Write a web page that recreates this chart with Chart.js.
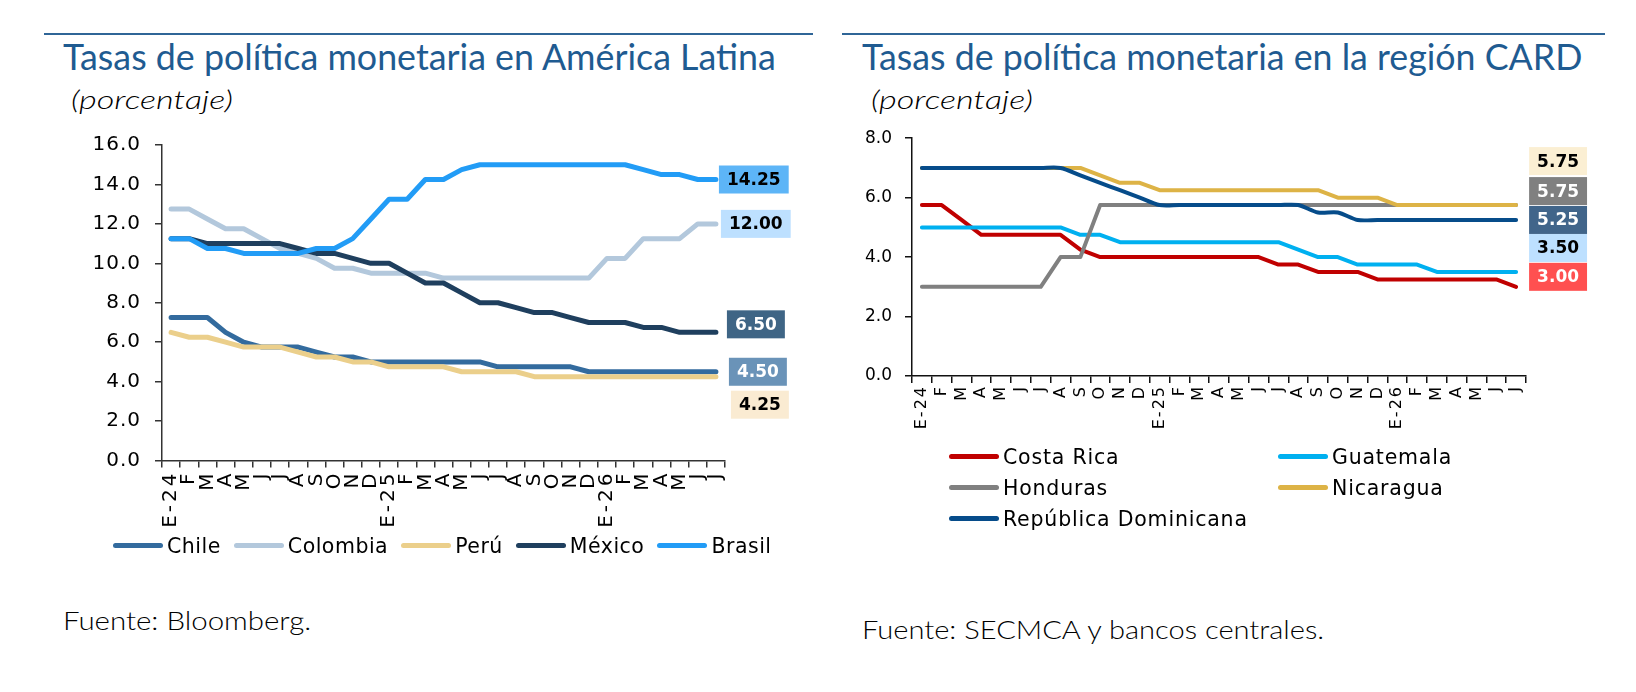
<!DOCTYPE html>
<html lang="es">
<head>
<meta charset="UTF-8">
<title>Tasas de política monetaria</title>
<script src="https://cdn.jsdelivr.net/npm/chart.js"></script>
<style>
    body { margin: 0; background: #fff; width: 1636px; height: 692px; position: relative; overflow: hidden; font-family: 'DejaVu Sans', sans-serif; }
    .rule { position: absolute; top: 33px; height: 2px; background: #2f6597; }
    .title { position: absolute; top: 37px; font-family: Lato, sans-serif; font-size: 37px; line-height: 1; color: #1f5b91; white-space: nowrap; transform-origin: left top; }
    .unit { position: absolute; top: 86px; font-family: Lato, sans-serif; font-style: italic; font-weight: 300; font-size: 26px; line-height: 1; white-space: nowrap; transform-origin: left top; }
    .source { position: absolute; font-family: Lato, sans-serif; font-weight: 300; font-size: 26px; line-height: 1; white-space: nowrap; transform-origin: left top; }
    canvas { position: absolute; }
    .legend { position: absolute; font-size: 20.5px; letter-spacing: 0.5px; color: #000; }
    .legend .item { display: flex; align-items: center; height: 31px; white-space: nowrap; }
    .legend .swatch { width: 50px; height: 5px; border-radius: 3px; margin-right: 4px; }
    #legend-la { display: flex; gap: 13px; left: 113px; top: 530px; }
    #legend-card { display: grid; grid-template-columns: 329px auto; left: 949px; top: 441px; letter-spacing: 0.8px; }
</style>
</head>
<body>
    <div class="rule" style="left:44px; width:769px"></div>
    <div class="rule" style="left:842px; width:763px"></div>

    <div class="title fit" data-w="713" style="left:63px">Tasas de política monetaria en América Latina</div>
    <div class="title fit" data-w="720" style="left:862px">Tasas de política monetaria en la región CARD</div>
    <div class="unit fit" data-w="162" style="left:71px">(porcentaje)</div>
    <div class="unit fit" data-w="162" style="left:871px">(porcentaje)</div>

    <canvas id="chart-la" width="745" height="431" style="left:70px; top:119px"></canvas>
    <canvas id="chart-card" width="760" height="340" style="left:850px; top:115px"></canvas>

    <div class="legend" id="legend-la"></div>
    <div class="legend" id="legend-card"></div>

    <div class="source fit" data-w="248" style="left:63px; top:607px">Fuente: Bloomberg.</div>
    <div class="source fit" data-w="462" style="left:862px; top:616px">Fuente: SECMCA y bancos centrales.</div>

<script>
    // meses: enero 2024 a julio 2026
    const months = ['E-24','F','M','A','M','J','J','A','S','O','N','D',
                    'E-25','F','M','A','M','J','J','A','S','O','N','D',
                    'E-26','F','M','A','M','J','J'];

    // América Latina
    const chile    = [7.25,7.25,7.25,6.5,6.0,5.75,5.75,5.75,5.5,5.25,5.25,5.0,5.0,5.0,5.0,5.0,5.0,5.0,4.75,4.75,4.75,4.75,4.75,4.5,4.5,4.5,4.5,4.5,4.5,4.5,4.5];
    const colombia = [12.75,12.75,12.25,11.75,11.75,11.25,10.75,10.5,10.25,9.75,9.75,9.5,9.5,9.5,9.5,9.25,9.25,9.25,9.25,9.25,9.25,9.25,9.25,9.25,10.25,10.25,11.25,11.25,11.25,12.0,12.0];
    const peru     = [6.5,6.25,6.25,6.0,5.75,5.75,5.75,5.5,5.25,5.25,5.0,5.0,4.75,4.75,4.75,4.75,4.5,4.5,4.5,4.5,4.25,4.25,4.25,4.25,4.25,4.25,4.25,4.25,4.25,4.25,4.25];
    const mexico   = [11.25,11.25,11.0,11.0,11.0,11.0,11.0,10.75,10.5,10.5,10.25,10.0,10.0,9.5,9.0,9.0,8.5,8.0,8.0,7.75,7.5,7.5,7.25,7.0,7.0,7.0,6.75,6.75,6.5,6.5,6.5];
    const brasil   = [11.25,11.25,10.75,10.75,10.5,10.5,10.5,10.5,10.75,10.75,11.25,12.25,13.25,13.25,14.25,14.25,14.75,15.0,15.0,15.0,15.0,15.0,15.0,15.0,15.0,15.0,14.75,14.5,14.5,14.25,14.25];

    // región CARD
    const costaRica  = [5.75,5.75,5.25,4.75,4.75,4.75,4.75,4.75,4.25,4.0,4.0,4.0,4.0,4.0,4.0,4.0,4.0,4.0,3.75,3.75,3.5,3.5,3.5,3.25,3.25,3.25,3.25,3.25,3.25,3.25,3.0];
    const guatemala  = [5.0,5.0,5.0,5.0,5.0,5.0,5.0,5.0,4.75,4.75,4.5,4.5,4.5,4.5,4.5,4.5,4.5,4.5,4.5,4.25,4.0,4.0,3.75,3.75,3.75,3.75,3.5,3.5,3.5,3.5,3.5];
    const honduras   = [3.0,3.0,3.0,3.0,3.0,3.0,3.0,4.0,4.0,5.75,5.75,5.75,5.75,5.75,5.75,5.75,5.75,5.75,5.75,5.75,5.75,5.75,5.75,5.75,5.75,5.75,5.75,5.75,5.75,5.75,5.75];
    const nicaragua  = [7.0,7.0,7.0,7.0,7.0,7.0,7.0,7.0,7.0,6.75,6.5,6.5,6.25,6.25,6.25,6.25,6.25,6.25,6.25,6.25,6.25,6.0,6.0,6.0,5.75,5.75,5.75,5.75,5.75,5.75,5.75];
    const repDom     = [7.0,7.0,7.0,7.0,7.0,7.0,7.0,7.0,6.75,6.5,6.25,6.0,5.75,5.75,5.75,5.75,5.75,5.75,5.75,5.75,5.5,5.5,5.25,5.25,5.25,5.25,5.25,5.25,5.25,5.25,5.25];

    const laSeries = [
        { label: 'Chile',    data: chile,    color: '#336b9e', tag: { bg: '#6a93b8', fg: '#fff', dx: 13, dy: 0 } },
        { label: 'Colombia', data: colombia, color: '#b3c8dc', tag: { bg: '#bde0ff', fg: '#000', dx: 5,  dy: 0 } },
        { label: 'Perú',     data: peru,     color: '#ebcf8b', tag: { bg: '#faebd2', fg: '#000', dx: 15, dy: 28 } },
        { label: 'México',   data: mexico,   color: '#1f3f5e', tag: { bg: '#3f6585', fg: '#fff', dx: 11, dy: -8 } },
        { label: 'Brasil',   data: brasil,   color: '#229cf6', tag: { bg: '#5db5f7', fg: '#000', dx: 3,  dy: 0 } }
    ];

    const cardSeries = [
        { label: 'Costa Rica',           data: costaRica, color: '#c00000', tag: { bg: '#ff5050', fg: '#fff', dx: 13, dy: -10 } },
        { label: 'Guatemala',            data: guatemala, color: '#00b0f0', tag: { bg: '#bde0ff', fg: '#000', dx: 13, dy: -24 } },
        { label: 'Honduras',             data: honduras,  color: '#808080', tag: { bg: '#808080', fg: '#fff', dx: 13, dy: -14 } },
        { label: 'Nicaragua',            data: nicaragua, color: '#ddb346', tag: { bg: '#fbefd3', fg: '#000', dx: 13, dy: -44 } },
        { label: 'República Dominicana', data: repDom,    color: '#064c8a', tag: { bg: '#41658a', fg: '#fff', dx: 13, dy: 0 }, tension: 0.3 }
    ];

    // etiqueta con el último valor de cada serie
    const endLabels = {
        id: 'endLabels',
        afterDatasetsDraw(chart, args, opts) {
            const { ctx } = chart;
            const x = chart.scales.x, y = chart.scales.y;
            opts.series.forEach(s => {
                const last = s.data.length - 1;
                const v = s.data[last];
                const text = v.toFixed(2);
                ctx.save();
                ctx.font = 'bold 17px "DejaVu Sans"';
                const w = ctx.measureText(text).width + 16;
                const h = 28;
                const bx = x.getPixelForValue(last) + s.tag.dx;
                const cy = y.getPixelForValue(v) + s.tag.dy;
                ctx.fillStyle = s.tag.bg;
                ctx.fillRect(bx, cy - h / 2, w, h);
                ctx.fillStyle = s.tag.fg;
                ctx.textBaseline = 'middle';
                ctx.fillText(text, bx + 8, cy + 1);
                ctx.restore();
            });
        }
    };

    // un poco más de espacio entre letras en los ejes
    const tickSpacing = {
        id: 'tickSpacing',
        beforeDraw(chart, args, opts) {
            ['x', 'y'].forEach(id => {
                const sc = chart.scales[id];
                if (sc._spaced) return;
                const orig = sc.drawLabels;
                sc.drawLabels = function (area) {
                    this.ctx.save();
                    this.ctx.letterSpacing = opts[id] + 'px';
                    orig.call(this, area);
                    this.ctx.restore();
                };
                sc._spaced = true;
            });
        }
    };

    function makeChart(id, series, opt) {
        const n = series.length;
        return new Chart(document.getElementById(id), {
            type: 'line',
            data: {
                labels: months,
                datasets: series.map((s, i) => ({
                    label: s.label,
                    data: s.data,
                    borderColor: s.color,
                    borderWidth: opt.lineWidth,
                    borderCapStyle: 'round',
                    borderJoinStyle: 'round',
                    pointRadius: 0,
                    tension: s.tension || 0,
                    order: n - i
                }))
            },
            options: {
                responsive: false,
                animation: false,
                events: [],
                layout: { padding: { top: opt.padTop, right: opt.padRight, left: 0, bottom: 0 } },
                plugins: {
                    legend: { display: false },
                    tooltip: { enabled: false },
                    endLabels: { series: series },
                    tickSpacing: opt.spacing
                },
                scales: {
                    x: {
                        type: 'category',
                        offset: true,
                        afterFit: s => { s.height = opt.xHeight; },
                        border: { display: true, color: opt.axisColor, width: 1.5 },
                        grid: { offset: true, drawOnChartArea: false, drawTicks: true, tickLength: 7, color: opt.axisColor, lineWidth: 1.5 },
                        ticks: {
                            autoSkip: false, minRotation: 90, maxRotation: 90,
                            padding: opt.xPad, color: '#000',
                            font: { family: "'DejaVu Sans'", size: opt.xFont }
                        }
                    },
                    y: {
                        min: 0, max: opt.yMax,
                        afterFit: s => { s.width = opt.yWidth; },
                        border: { display: true, color: opt.axisColor, width: 1.5 },
                        grid: { drawOnChartArea: false, drawTicks: true, tickLength: 7, color: opt.axisColor, lineWidth: 1.5 },
                        ticks: {
                            stepSize: 2, padding: opt.yPad, color: '#000',
                            font: { family: "'DejaVu Sans'", size: opt.yFont },
                            callback: v => v.toFixed(1)
                        }
                    }
                }
            },
            plugins: [endLabels, tickSpacing]
        });
    }

    makeChart('chart-la', laSeries, {
        lineWidth: 5, yMax: 16, yWidth: 92, xHeight: 89.5, padTop: 14, padRight: 90,
        xPad: 3, yPad: 14, xFont: 20, yFont: 20, spacing: { x: 3, y: 1 }, axisColor: '#333'
    });
    makeChart('chart-card', cardSeries, {
        lineWidth: 4, yMax: 8, yWidth: 62, xHeight: 79, padTop: 20, padRight: 84,
        xPad: 2, yPad: 13, xFont: 16, yFont: 17, spacing: { x: 2, y: 0 }, axisColor: '#111'
    });

    function buildLegend(id, series) {
        const box = document.getElementById(id);
        box.innerHTML = series.map(s =>
            `<div class="item"><span class="swatch" style="background:${s.color}"></span>${s.label}</div>`
        ).join('');
    }
    buildLegend('legend-la', laSeries);
    buildLegend('legend-card', cardSeries);

    // ajustar el ancho de los textos al del original
    document.querySelectorAll('.fit').forEach(el => {
        const k = Number(el.dataset.w) / el.offsetWidth;
        el.style.transform = `scaleX(${k})`;
    });
</script>
</body>
</html>
